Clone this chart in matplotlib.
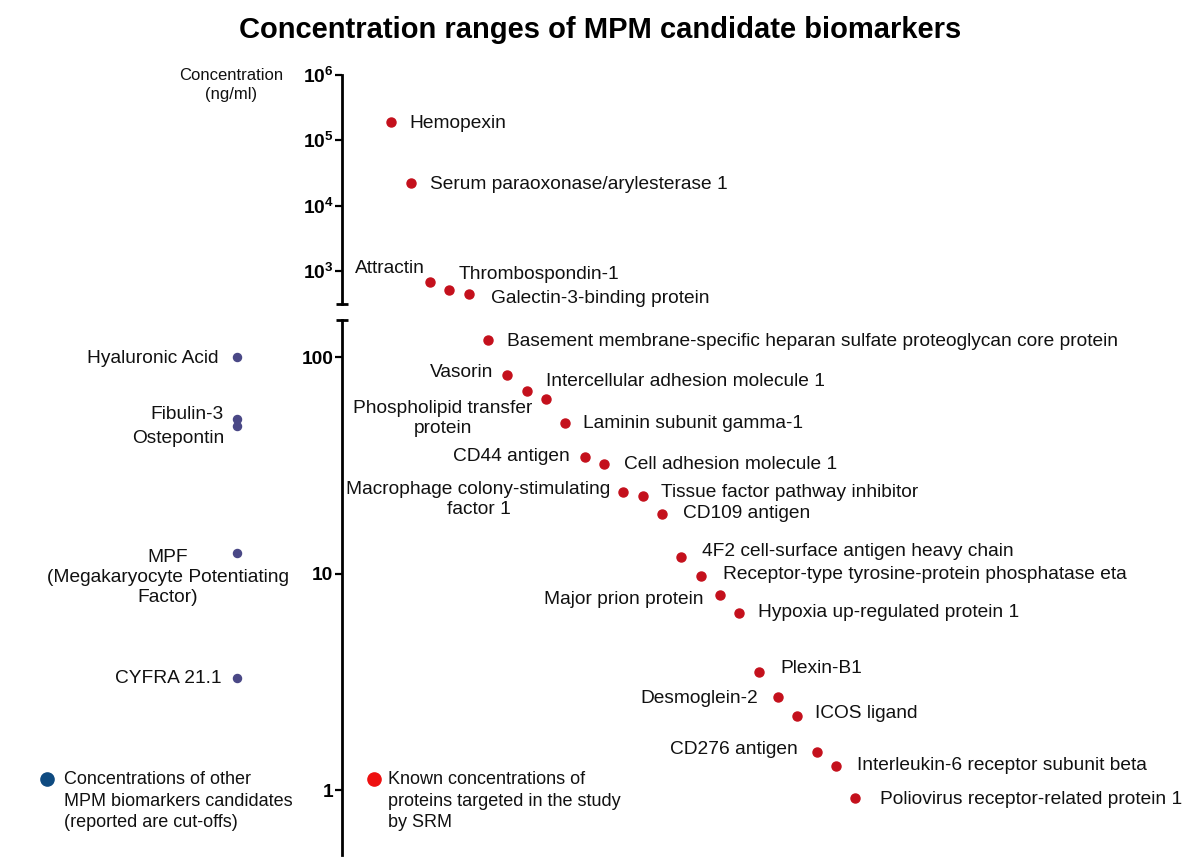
import matplotlib.pyplot as plt
from matplotlib.lines import Line2D

plt.rcParams['font.family'] = ['Liberation Sans', 'DejaVu Sans']
plt.rcParams['mathtext.fontset'] = 'custom'
plt.rcParams['mathtext.rm'] = 'Liberation Sans'
plt.rcParams['mathtext.bf'] = 'Liberation Sans:bold'

# proteins targeted by SRM, high range (ng/ml)
high_names = ['Hemopexin', 'Serum paraoxonase/arylesterase 1', 'Attractin',
              'Thrombospondin-1', 'Galectin-3-binding protein']
high_conc = [190000, 22000, 667, 513, 446]

# proteins targeted by SRM, low range (ng/ml)
low_names = ['Basement membrane-specific heparan sulfate proteoglycan core protein',
             'Vasorin', 'Phospholipid transfer\nprotein', 'Intercellular adhesion molecule 1',
             'Laminin subunit gamma-1', 'CD44 antigen', 'Cell adhesion molecule 1',
             'Macrophage colony-stimulating\nfactor 1', 'Tissue factor pathway inhibitor',
             'CD109 antigen', '4F2 cell-surface antigen heavy chain',
             'Receptor-type tyrosine-protein phosphatase eta', 'Major prion protein',
             'Hypoxia up-regulated protein 1', 'Plexin-B1', 'Desmoglein-2', 'ICOS ligand',
             'CD276 antigen', 'Interleukin-6 receptor subunit beta',
             'Poliovirus receptor-related protein 1']
low_conc = [120, 83, 70, 64, 49.5, 34.5, 32, 23.8, 22.8, 18.8, 11.9, 9.8, 8.0, 6.6,
            3.5, 2.7, 2.2, 1.5, 1.3, 0.92]

# other MPM biomarker candidates (cut-offs, ng/ml)
other_names = ['Hyaluronic Acid', 'Fibulin-3', 'Ostepontin',
               'MPF\n(Megakaryocyte Potentiating\nFactor)', 'CYFRA 21.1']
other_conc = [100, 52, 48, 12.4, 3.3]

# label offsets in pixels (dx, dy downwards, alignment)
high_off = [(18, 1, 'left'), (19, 1, 'left'), (-5, -14, 'right'), (9, -15, 'left'),
            (22, 5, 'left')]
low_off = [(19, 1, 'left'), (-14, -2, 'right'), (-84, 28, 'center'), (0, -18, 'left'),
           (18, 0, 'left'), (-15, -1, 'right'), (20, 0, 'left'), (-145, 7, 'center'),
           (18, -4, 'left'), (21, -1, 'left'), (21, -6, 'left'), (22, -1, 'left'),
           (-17, 5, 'right'), (19, 0, 'left'), (22, -4, 'left'), (-20, 2, 'right'),
           (18, -3, 'left'), (-19, -3, 'right'), (21, 0, 'left'), (25, 1, 'left')]
other_off = [(-18, 1, 'right'), (-13, -4, 'right'), (-12, 12, 'right'),
             (-69, 24, 'center'), (-15, 1, 'right')]

W, H = 1200, 864
RED = '#c4101c'
BLUE = '#4a4886'
FS = 13.8


def fx(x):
    return x / W


def fy(y):
    return 1 - y / H


fig = plt.figure(figsize=(12, 8.64), dpi=100)
ax_hi = fig.add_axes([0, fy(304), 1, fy(75) - fy(304)])
ax_lo = fig.add_axes([0, fy(855), 1, fy(320) - fy(855)])

x_hi = list(range(len(high_names)))
x_lo = list(range(len(high_names), len(high_names) + len(low_names)))
x_other = [-8] * len(other_names)
spine_x = -2.535

for ax in (ax_hi, ax_lo):
    ax.set_yscale('log')
    ax.set_xlim(-20.25, 41.83)
    for s in ('top', 'right', 'bottom'):
        ax.spines[s].set_visible(False)
    ax.spines['left'].set_position(('data', spine_x))
    ax.spines['left'].set_linewidth(2.0)
    ax.set_xticks([])
    ax.minorticks_off()
    ax.tick_params(axis='y', which='major', length=5, width=1.6, pad=1.5,
                   labelsize=13.8)
    ax.patch.set_visible(False)

ax_hi.set_ylim(311, 1e6)
ax_hi.set_yticks([1e3, 1e4, 1e5, 1e6])
ax_hi.set_yticklabels([r'$\mathbf{10^{3}}$', r'$\mathbf{10^{4}}$',
                       r'$\mathbf{10^{5}}$', r'$\mathbf{10^{6}}$'])
ax_hi.minorticks_off()

ax_lo.set_ylim(0.502, 148.6)
ax_lo.set_yticks([1, 10, 100])
ax_lo.set_yticklabels(['1', '10', '100'], fontweight='bold')
ax_lo.minorticks_off()

# end caps of the broken axis
ax_hi.plot([spine_x], [ax_hi.get_ylim()[0]], marker='_', ms=8, mew=2.0,
           color='black', clip_on=False)
ax_lo.plot([spine_x], [ax_lo.get_ylim()[1]], marker='_', ms=8, mew=2.0,
           color='black', clip_on=False)

ax_hi.plot(x_hi, high_conc, 'o', color=RED, ms=6.5, ls='none', clip_on=False)
ax_lo.plot(x_lo, low_conc, 'o', color=RED, ms=6.5, ls='none', clip_on=False)
ax_lo.plot(x_other, other_conc, 'o', color=BLUE, ms=5.8, ls='none', clip_on=False)


def put_labels(ax, xs, ys, names, offs):
    for x, y, name, (dx, dy, ha) in zip(xs, ys, names, offs):
        ax.annotate(name, (x, y), xytext=(dx, -dy), textcoords='offset pixels',
                    ha=ha, va='center', fontsize=FS, linespacing=1.25,
                    multialignment='center', color='#111111')


put_labels(ax_hi, x_hi, high_conc, high_names, high_off)
put_labels(ax_lo, x_lo, low_conc, low_names, low_off)
put_labels(ax_lo, x_other, other_conc, other_names, other_off)

fig.text(fx(231), fy(85), 'Concentration\n(ng/ml)', ha='center', va='center',
         fontsize=12, linespacing=1.3, color='#111111')

fig.text(fx(600), fy(30), 'Concentration ranges of MPM candidate biomarkers',
         ha='center', va='center', fontsize=21, fontweight='bold',
         family=['Liberation Sans Narrow', 'Liberation Sans'])

# legend
fig.add_artist(Line2D([fx(47)], [fy(779)], marker='o', ms=9.5, color='#0e4a80',
                      transform=fig.transFigure))
fig.text(fx(64), fy(771), 'Concentrations of other\nMPM biomarkers candidates\n(reported are cut-offs)',
         ha='left', va='top', fontsize=13, linespacing=1.35, color='#111111')
fig.add_artist(Line2D([fx(374)], [fy(779)], marker='o', ms=9.5, color='#ee1010',
                      transform=fig.transFigure))
fig.text(fx(388), fy(771), 'Known concentrations of\nproteins targeted in the study\nby SRM',
         ha='left', va='top', fontsize=13, linespacing=1.35, color='#111111')

fig.savefig('out.png', dpi=100, facecolor='white')
